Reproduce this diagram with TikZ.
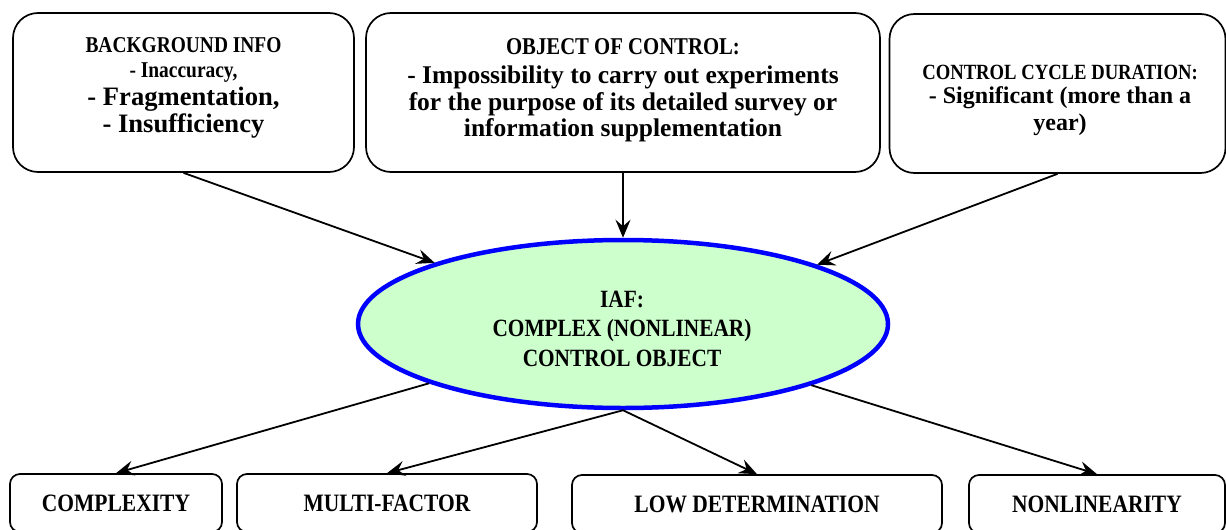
\documentclass[tikz,border=0pt]{standalone}
\usepackage{fontspec}
\setmainfont{Liberation Serif}
\newfontfamily\capsfont{Liberation Serif}[FakeStretch=0.86]
\usetikzlibrary{shapes.geometric,arrows.meta}
\definecolor{ellfill}{HTML}{CCFFCC}
\definecolor{ellline}{HTML}{0000FF}
\begin{document}
\begin{tikzpicture}[x=1pt,y=-1pt,
  topbox/.style={draw,line width=1.7pt,rounded corners=25pt,inner sep=0pt},
  botbox/.style={draw,line width=1.7pt,rounded corners=10pt,inner sep=0pt,minimum height=58pt,
    font=\capsfont\bfseries\fontsize{25}{27}\selectfont},
  txt/.style={inner sep=0pt,align=center},
  conn/.style={line width=1.8pt,-{Stealth[length=18pt,width=15pt,inset=6.5pt]}},
]
\useasboundingbox (0,0) rectangle (1226,530);
\clip (0,0) rectangle (1226,530);

% top boxes
\node[topbox,minimum width=341pt,minimum height=159pt] (box1) at (183.5,92.5) {};
\node[topbox,minimum width=514pt,minimum height=159pt] (box2) at (623,92.5) {};
\node[topbox,minimum width=336pt,minimum height=159pt] (box3) at (1057.5,93.5) {};

\node[txt,anchor=north,font=\bfseries\fontsize{26.6}{27}\selectfont] (t1) at (183.5,37.7)
  {{\capsfont\fontsize{22.6}{27}\selectfont BACKGROUND INFO}\\[-2pt]
   {\capsfont\fontsize{22.6}{27}\selectfont - Inaccuracy,}\\[1pt]
   - Fragmentation,\\
   - Insufficiency};

\node[txt,anchor=north,font=\bfseries\fontsize{25.5}{27}\selectfont] (t2) at (623,38.7)
  {{\capsfont\fontsize{24.1}{27}\selectfont OBJECT OF CONTROL:}\\[2pt]
   - Impossibility to carry out experiments\\
   for the purpose of its detailed survey or\\[-1pt]
   information supplementation};

\node[txt,anchor=north,font=\bfseries\fontsize{24}{27}\selectfont] (t3) at (1060,65.3)
  {{\capsfont\fontsize{21.7}{27}\selectfont CONTROL CYCLE DURATION:}\\[-3pt]
   - Significant (more than a\\
   year)};

% central ellipse
\node[ellipse,draw=ellline,fill=ellfill,line width=4.5pt,minimum width=530pt,minimum height=168pt,inner sep=0pt] (ell) at (623,324) {};
\node[txt,anchor=north,font=\capsfont\bfseries\fontsize{24.8}{29.5}\selectfont] (te) at (622,290.6)
  {IAF:\\ COMPLEX (NONLINEAR)\\ CONTROL OBJECT};

% bottom boxes
\node[botbox,minimum width=212pt] (b1) at (116,503) {COMPLEXITY};
\node[botbox,minimum width=300pt] (b2) at (387,503) {MULTI-FACTOR};
\node[botbox,minimum width=370pt] (b3) at (757,504) {LOW DETERMINATION};
\node[botbox,minimum width=256pt] (b4) at (1097,504) {NONLINEARITY};

% connectors
\draw[conn] (box1.south) -- (ell.162.7);
\draw[conn] (box2.south) -- (ell.north);
\draw[conn] (box3.south) -- (ell.17.3);
\draw[conn] (ell.197.4) -- (b1.north);
\draw[conn] (ell.south) -- (b2.north);
\draw[conn] (ell.south) -- (b3.north);
\draw[conn] (ell.342.7) -- (b4.north);
\end{tikzpicture}
\end{document}
